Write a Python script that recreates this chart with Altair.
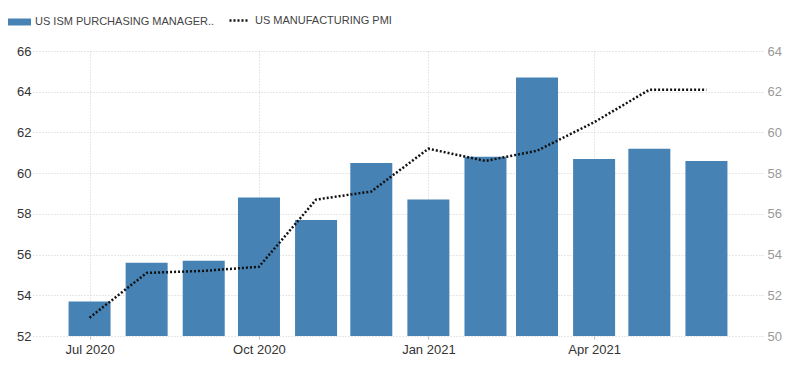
import altair as alt
import pandas as pd

months = ["2020-07-01", "2020-08-01", "2020-09-01", "2020-10-01", "2020-11-01", "2020-12-01",
          "2021-01-01", "2021-02-01", "2021-03-01", "2021-04-01", "2021-05-01", "2021-06-01"]
ism_values = [53.7, 55.6, 55.7, 58.8, 57.7, 60.5, 58.7, 60.8, 64.7, 60.7, 61.2, 60.6]
pmi_values = [50.9, 53.1, 53.2, 53.4, 56.7, 57.1, 59.2, 58.6, 59.1, 60.5, 62.1, 62.1]
series_names = ["US ISM PURCHASING MANAGER..", "US MANUFACTURING PMI"]

df = pd.DataFrame({
    "date": [m + "T00:00:00" for m in months],
    "ism": ism_values,
    "pmi": pmi_values,
    "s1": [series_names[0]] * len(months),
    "s2": [series_names[1]] * len(months),
})

FONT = "Liberation Sans"
GRID = "#cfcfcf"

x_enc = alt.X(
    "date:T",
    title=None,
    scale=alt.Scale(domain=[alt.DateTime(year=2020, month=6, date=3),
                            alt.DateTime(year=2021, month=6, date=29)]),
    axis=alt.Axis(
        values=[alt.DateTime(year=2020, month=7, date=1), alt.DateTime(year=2020, month=10, date=1),
                alt.DateTime(year=2021, month=1, date=1), alt.DateTime(year=2021, month=4, date=1)],
        format="%b %Y", labelFontSize=13, labelColor="#333", labelFont=FONT,
        domain=False, ticks=True, tickSize=3, tickColor="#bbb", labelPadding=4,
        grid=True, gridColor=GRID, gridDash=[1, 2], labelFlush=False,
    ),
)

bars = alt.Chart(df).mark_bar(size=42).encode(
    x=x_enc,
    y=alt.Y("ism:Q", title=None,
            scale=alt.Scale(domain=[52, 66], nice=False, zero=False),
            axis=alt.Axis(orient="left", values=[52, 54, 56, 58, 60, 62, 64, 66],
                          labelFontSize=13, labelColor="#333", labelFont=FONT,
                          domain=False, ticks=False, labelPadding=2,
                          grid=True, gridColor=GRID, gridDash=[1, 2])),
    y2=alt.datum(52),
    color=alt.Color("s1:N", scale=alt.Scale(range=["#4682b4"]),
                    legend=alt.Legend(orient="none", legendX=-26, legendY=-41, title=None,
                                      symbolType="M-1,-0.29H1V0.29H-1Z", symbolSize=576,
                                      symbolStrokeWidth=0, labelFontSize=11, labelColor="#444",
                                      labelFont=FONT, labelOffset=4, labelLimit=400, padding=0)),
)

line = alt.Chart(df).mark_line(strokeWidth=2.5, color="#111").encode(
    x=x_enc,
    y=alt.Y("pmi:Q", title=None,
            scale=alt.Scale(domain=[50, 64], nice=False, zero=False),
            axis=alt.Axis(orient="right", values=[50, 52, 54, 56, 58, 60, 62, 64],
                          labelFontSize=13, labelColor="#999", labelFont=FONT,
                          domain=False, ticks=False, labelPadding=4, grid=False)),
    strokeDash=alt.StrokeDash("s2:N", scale=alt.Scale(range=[[2, 2]]),
                              legend=alt.Legend(orient="none", legendX=195, legendY=-41, title=None,
                                                symbolType="stroke", symbolSize=324,
                                                symbolStrokeColor="#111", symbolStrokeWidth=2.5,
                                                labelFontSize=11, labelColor="#444", labelFont=FONT,
                                                labelOffset=6, labelLimit=400, padding=0)),
)

chart = alt.layer(bars, line).resolve_scale(
    y="independent", color="independent", strokeDash="independent"
).properties(
    width=730, height=285,
    autosize=alt.AutoSizeParams(type="none"),
    padding={"left": 25, "top": 43, "right": 24, "bottom": 20},
).configure_view(stroke=None)

chart.save("out.html", embed_options={"renderer": "svg", "actions": False})
